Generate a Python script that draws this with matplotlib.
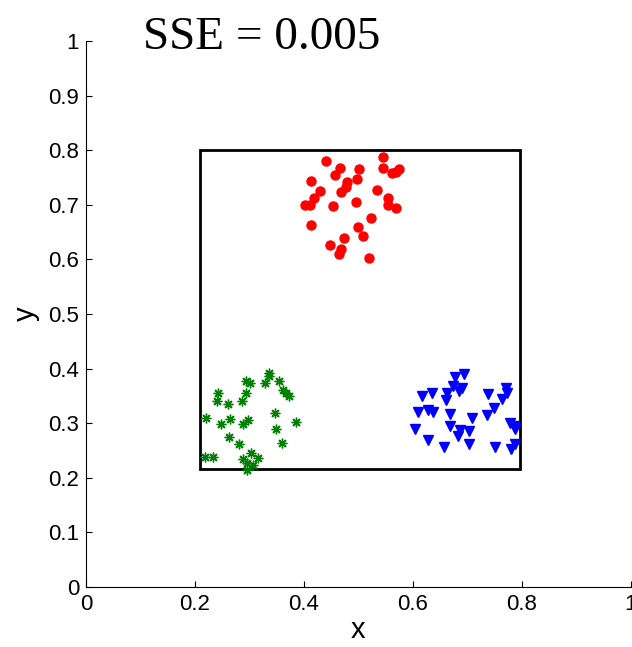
import matplotlib
matplotlib.use("Agg")
import matplotlib.pyplot as plt
from matplotlib.patches import Rectangle

# cluster 1 (red circles)
red_x = [0.440, 0.467, 0.457, 0.502, 0.546, 0.546, 0.561, 0.575, 0.413, 0.479,
         0.498, 0.477, 0.469, 0.429, 0.418, 0.402, 0.412, 0.454, 0.495, 0.535,
         0.555, 0.555, 0.569, 0.413, 0.523, 0.500, 0.509, 0.474, 0.448, 0.469,
         0.464, 0.520, 0.570]
red_y = [0.781, 0.767, 0.755, 0.765, 0.787, 0.767, 0.758, 0.765, 0.744, 0.742,
         0.747, 0.733, 0.724, 0.725, 0.712, 0.700, 0.700, 0.697, 0.705, 0.727,
         0.712, 0.700, 0.694, 0.663, 0.675, 0.659, 0.643, 0.640, 0.627, 0.619,
         0.610, 0.602, 0.760]

# cluster 2 (green asterisks)
green_x = [0.336, 0.336, 0.355, 0.328, 0.294, 0.302, 0.243, 0.294, 0.361, 0.367,
           0.373, 0.240, 0.261, 0.287, 0.347, 0.220, 0.248, 0.265, 0.298, 0.289,
           0.386, 0.349, 0.262, 0.281, 0.359, 0.218, 0.234, 0.303, 0.288, 0.316,
           0.295, 0.306, 0.295]
green_y = [0.392, 0.386, 0.378, 0.373, 0.378, 0.373, 0.356, 0.355, 0.360, 0.355,
           0.349, 0.341, 0.335, 0.341, 0.319, 0.310, 0.298, 0.307, 0.305, 0.298,
           0.303, 0.289, 0.275, 0.261, 0.264, 0.239, 0.238, 0.246, 0.234, 0.237,
           0.227, 0.223, 0.214]

# cluster 3 (blue triangles)
blue_x = [0.677, 0.694, 0.674, 0.690, 0.685, 0.616, 0.636, 0.663, 0.661, 0.738,
          0.771, 0.772, 0.763, 0.749, 0.609, 0.628, 0.637, 0.668, 0.709, 0.736,
          0.604, 0.668, 0.687, 0.703, 0.683, 0.778, 0.785, 0.787, 0.628, 0.703,
          0.657, 0.750, 0.781, 0.787]
blue_y = [0.385, 0.390, 0.368, 0.365, 0.359, 0.350, 0.355, 0.356, 0.342, 0.353,
          0.364, 0.355, 0.344, 0.327, 0.321, 0.324, 0.321, 0.316, 0.310, 0.315,
          0.289, 0.294, 0.288, 0.285, 0.277, 0.301, 0.295, 0.289, 0.269, 0.261,
          0.256, 0.256, 0.252, 0.262]

box = (0.209, 0.216, 0.796, 0.800)  # x0, y0, x1, y1
sse = 0.005

fig = plt.figure(figsize=(6.32, 6.47), dpi=100)
ax = fig.add_axes([0.136, 0.0927, 0.862, 0.844])

ax.plot(red_x, red_y, 'o', color='red', markersize=6.5)
ax.plot(green_x, green_y, linestyle='none', marker=(8, 2, 0), color='green',
        markersize=7, markeredgewidth=1.0)
ax.plot(blue_x, blue_y, 'v', color='blue', markersize=7)

ax.add_patch(Rectangle((box[0], box[1]), box[2] - box[0], box[3] - box[1],
                       fill=False, edgecolor='black', linewidth=2))

ax.set_xlim(0, 1)
ax.set_ylim(0, 1)
ax.set_xticks([0, 0.2, 0.4, 0.6, 0.8, 1])
ax.set_xticklabels(['0', '0.2', '0.4', '0.6', '0.8', '1'])
ax.set_yticks([i / 10 for i in range(11)])
ax.set_yticklabels(['0'] + ['%.1f' % (i / 10) for i in range(1, 10)] + ['1'])
ax.spines['top'].set_visible(False)
ax.spines['right'].set_visible(False)
ax.tick_params(direction='in', length=4, labelsize=16, pad=5)
for lab in ax.get_xticklabels() + ax.get_yticklabels():
    lab.set_family('Liberation Sans')
ax.set_xlabel('x', fontsize=21, family='Liberation Sans', labelpad=1)
ax.set_ylabel('y', fontsize=21, family='Liberation Sans', labelpad=6)

ax.text(0.105, 0.985, 'SSE = %.3f' % sse, fontsize=34, family='Liberation Serif',
        va='baseline', ha='left', clip_on=False)

fig.savefig('out.png', dpi=100)
